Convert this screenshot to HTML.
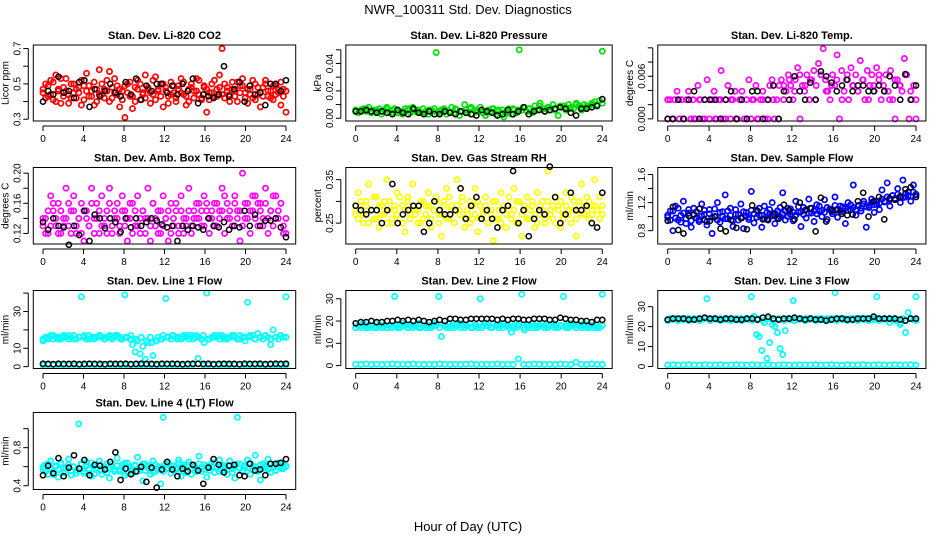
<!DOCTYPE html>
<html><head><meta charset="utf-8"><style>
html,body{margin:0;padding:0;background:#fff}
svg{display:block}
text{font-family:"Liberation Sans",Arial,sans-serif;fill:#000}
.t{font-weight:bold;font-size:11px}
.tk{font-size:10px}
</style></head><body>
<svg id="chart" width="936" height="540" viewBox="0 0 936 540" xmlns="http://www.w3.org/2000/svg">
<text x="468" y="14" text-anchor="middle" font-size="13">NWR_100311  Std. Dev. Diagnostics</text>
<text x="468" y="531" text-anchor="middle" font-size="13">Hour of Day (UTC)</text>
</svg>
<script>
// ---- data ----
const xTicks=[0,4,8,12,16,20,24];
const co2Red=[0.47,0.50,0.43,0.52,0.41,0.55,0.46,0.39,0.48,0.53,0.44,0.42,0.50,0.47,0.45,0.38,0.49,0.56,0.43,0.46,0.51,0.40,0.58,0.44,0.47,0.52,0.57,0.42,0.45,0.49,0.37,0.46,0.31,0.50,0.43,0.36,0.48,0.52,0.41,0.45,0.55,0.47,0.39,0.44,0.54,0.46,0.50,0.37,0.48,0.43,0.51,0.45,0.40,0.49,0.53,0.44,0.38,0.47,0.50,0.42,0.46,0.52,0.41,0.48,0.34,0.45,0.50,0.43,0.47,0.55,0.70,0.42,0.48,0.44,0.51,0.46,0.40,0.49,0.53,0.45,0.39,0.47,0.42,0.50,0.44,0.37,0.48,0.52,0.43,0.46,0.41,0.49,0.45,0.38,0.47,0.34];
const co2Red2=[0.45,0.42,0.49,0.44,0.51,0.40,0.47,0.53,0.43,0.46,0.39,0.50,0.45,0.42,0.48,0.52,0.41,0.46,0.49,0.43,0.38,0.47,0.44,0.50,0.42,0.46,0.40,0.48,0.53,0.44,0.47,0.41,0.49,0.45,0.51,0.43,0.40,0.47,0.50,0.44,0.42,0.48,0.45,0.52,0.41,0.47,0.43,0.50,0.46,0.39,0.44,0.49,0.42,0.47,0.45,0.51,0.43,0.40,0.48,0.46,0.53,0.44,0.42,0.49,0.47,0.41,0.45,0.52,0.43,0.48,0.44,0.50,0.46,0.40,0.47,0.43,0.51,0.45,0.49,0.42,0.47,0.44,0.52,0.41,0.48,0.45,0.43,0.50,0.46,0.42,0.49,0.44,0.47,0.51,0.43,0.46];
const co2Black=[0.40,0.46,0.44,0.54,0.45,0.46,0.42,0.51,0.52,0.37,0.47,0.43,0.46,0.50,0.45,0.43,0.51,0.44,0.53,0.41,0.49,0.46,0.50,0.50,0.45,0.49,0.44,0.50,0.46,0.53,0.39,0.44,0.43,0.42,0.44,0.60,0.43,0.47,0.51,0.40,0.49,0.44,0.45,0.38,0.50,0.50,0.46,0.52];
const presGreen=[0.005,0.004,0.006,0.007,0.005,0.008,0.004,0.006,0.005,0.007,0.003,0.006,0.008,0.005,0.004,0.007,0.006,0.005,0.003,0.007,0.006,0.004,0.008,0.005,0.006,0.004,0.007,0.005,0.003,0.006,0.005,0.048,0.004,0.006,0.007,0.003,0.005,0.008,0.004,0.006,0.002,0.005,0.010,0.004,0.007,0.003,0.006,0.005,0.008,0.004,0.002,0.006,0.005,0.007,0.003,0.006,0.004,0.001,0.005,0.007,0.003,0.006,0.004,0.050,0.006,0.008,0.005,0.007,0.004,0.009,0.006,0.011,0.007,0.005,0.008,0.006,0.010,0.007,0.002,0.008,0.009,0.006,0.010,0.008,0.007,0.011,0.009,0.006,0.010,0.008,0.009,0.011,0.012,0.010,0.013,0.049];
const presGreen2=[0.006,0.005,0.007,0.004,0.006,0.005,0.007,0.006,0.004,0.005,0.007,0.006,0.005,0.004,0.006,0.007,0.005,0.006,0.004,0.007,0.005,0.006,0.008,0.005,0.006,0.004,0.007,0.005,0.006,0.004,0.007,0.006,0.008,0.007,0.006,0.009,0.007,0.008,0.006,0.009,0.008,0.007,0.010,0.008,0.009,0.010,0.009,0.011];
const presBlack=[0.005,0.005,0.006,0.005,0.004,0.005,0.004,0.003,0.006,0.004,0.003,0.007,0.004,0.003,0.005,0.003,0.003,0.005,0.004,0.003,0.005,0.004,0.003,0.002,0.006,0.005,0.004,0.002,0.003,0.006,0.003,0.005,0.008,0.003,0.005,0.006,0.005,0.006,0.007,0.008,0.007,0.004,0.002,0.007,0.007,0.008,0.009,0.014];
const tempMagenta=[0,0.0027,0,0.0027,0.0039,0,0.0027,0,0.0027,0.0039,0,0.0027,0,0.0047,0.0027,0,0.0027,0.0055,0,0.0027,0.0039,0,0.0027,0.0068,0,0.0027,0.0047,0,0.0027,0.0039,0,0.0027,0.0039,0,0.0027,0.0055,0,0.0027,0.0047,0,0.0027,0.0039,0,0.0027,0.0047,0.0055,0,0.0027,0.0047,0.0055,0.0027,0.0039,0.0062,0.0047,0.0027,0.0055,0.0072,0,0.0047,0.0039,0.0062,0.0027,0.0055,0.0068,0.0047,0.0078,0.0062,0.0099,0.0055,0.0039,0.0027,0.0062,0.0047,0.0090,0,0.0068,0.0039,0.0055,0.0027,0.0072,0.0047,0.0062,0.0039,0.0082,0.0055,0.0027,0.0068,0.0047,0.0062,0.0039,0.0072,0.0055,0.0027,0.0047,0.0062,0.0039,0.0068,0.0027,0,0.0055,0.0047,0.0039,0.0085,0.0062,0,0.0027,0.0047,0];
const tempMagenta2=[0.0027,0,0.0027,0,0.0027,0,0.0027,0,0.0027,0,0.0027,0,0.0027,0,0.0027,0,0.0027,0,0.0027,0,0.0027,0,0.0047,0.0055,0.0039,0.0062,0.0047,0.0055,0.0027,0.0062,0.0039,0.0047,0.0055,0.0027,0.0062,0.0047,0.0039,0.0055,0.0027,0.0047,0.0062,0.0039,0.0027,0.0055,0.0047,0.0062,0.0039,0.0027];
const tempBlack=[0,0,0.0027,0,0.0027,0.0039,0,0.0027,0.0027,0.0027,0,0.0027,0.0039,0,0.0027,0,0.0039,0.0039,0,0.0027,0.0047,0,0.0039,0.0027,0.0060,0.0039,0.0027,0.0051,0.0027,0.0067,0.0060,0.0051,0.0039,0.0047,0.0055,0.0039,0.0047,0.0047,0.0039,0.0039,0.0047,0.0039,0.0060,0.0047,0.0027,0.0063,0.0027,0.0047];
const ambMagenta=[0.13,0.14,0.12,0.17,0.15,0.13,0.16,0.12,0.14,0.18,0.13,0.15,0.17,0.12,0.14,0.16,0.11,0.15,0.13,0.18,0.14,0.16,0.12,0.17,0.13,0.15,0.18,0.12,0.14,0.16,0.13,0.17,0.15,0.11,0.14,0.16,0.13,0.17,0.12,0.15,0.14,0.18,0.11,0.16,0.13,0.15,0.12,0.17,0.14,0.11,0.16,0.13,0.15,0.12,0.17,0.14,0.13,0.18,0.12,0.15,0.14,0.16,0.13,0.17,0.15,0.12,0.14,0.16,0.13,0.15,0.18,0.12,0.16,0.14,0.13,0.17,0.15,0.11,0.20,0.14,0.16,0.12,0.15,0.17,0.13,0.16,0.14,0.18,0.12,0.15,0.13,0.17,0.14,0.16,0.12,0.14];
const ambMagenta2=[0.14,0.12,0.15,0.13,0.16,0.14,0.12,0.15,0.13,0.14,0.16,0.12,0.15,0.13,0.14,0.12,0.15,0.14,0.13,0.16,0.12,0.14,0.15,0.13,0.14,0.12,0.16,0.13,0.15,0.14,0.12,0.15,0.13,0.14,0.16,0.12,0.15,0.13,0.14,0.15,0.12,0.14,0.13,0.16,0.14,0.12,0.15,0.13,0.14,0.15,0.12,0.14,0.16,0.13,0.15,0.12,0.14,0.15,0.13,0.14,0.16,0.14,0.15,0.13,0.16,0.14,0.15,0.13,0.16,0.14,0.15,0.17,0.14,0.15,0.13,0.16,0.14,0.15,0.13,0.16,0.14,0.15,0.17,0.14,0.16,0.15,0.13,0.16,0.14,0.15,0.17,0.14,0.15,0.16,0.13,0.12];
const ambBlack=[0.135,0.125,0.14,0.13,0.128,0.105,0.13,0.118,0.15,0.11,0.145,0.14,0.127,0.14,0.135,0.122,0.14,0.128,0.14,0.13,0.135,0.14,0.137,0.132,0.128,0.13,0.11,0.13,0.125,0.13,0.128,0.125,0.14,0.13,0.128,0.135,0.125,0.13,0.128,0.15,0.13,0.145,0.13,0.137,0.137,0.14,0.128,0.115];
const rhYellow=[0.27,0.32,0.29,0.25,0.30,0.34,0.28,0.26,0.31,0.24,0.29,0.27,0.35,0.30,0.25,0.28,0.32,0.26,0.29,0.23,0.31,0.27,0.34,0.28,0.25,0.30,0.26,0.29,0.32,0.24,0.28,0.31,0.27,0.22,0.30,0.33,0.26,0.29,0.25,0.35,0.28,0.31,0.24,0.27,0.30,0.26,0.33,0.23,0.29,0.27,0.31,0.25,0.28,0.21,0.30,0.26,0.32,0.28,0.24,0.29,0.27,0.33,0.25,0.30,0.22,0.28,0.31,0.26,0.29,0.24,0.32,0.27,0.30,0.25,0.37,0.28,0.26,0.31,0.29,0.24,0.27,0.32,0.28,0.25,0.30,0.22,0.29,0.34,0.27,0.31,0.26,0.29,0.35,0.28,0.31,0.27];
const rhYellow2=[0.28,0.26,0.30,0.27,0.29,0.25,0.28,0.31,0.26,0.29,0.27,0.30,0.25,0.28,0.26,0.29,0.27,0.31,0.25,0.28,0.30,0.26,0.29,0.27,0.28,0.25,0.30,0.27,0.29,0.26,0.28,0.30,0.25,0.27,0.29,0.26,0.31,0.28,0.25,0.29,0.27,0.30,0.26,0.28,0.25,0.29,0.27,0.30,0.26,0.28,0.29,0.25,0.27,0.30,0.26,0.28,0.25,0.29,0.27,0.31,0.26,0.28,0.30,0.25,0.27,0.29,0.26,0.28,0.30,0.27,0.25,0.29,0.28,0.26,0.30,0.27,0.29,0.25,0.28,0.30,0.26,0.29,0.27,0.31,0.28,0.26,0.30,0.27,0.29,0.28,0.30,0.27,0.29,0.28,0.26,0.29];
const rhBlack=[0.29,0.28,0.27,0.28,0.28,0.25,0.28,0.34,0.25,0.27,0.28,0.29,0.29,0.23,0.25,0.30,0.28,0.27,0.27,0.28,0.33,0.26,0.29,0.31,0.26,0.28,0.26,0.24,0.28,0.29,0.37,0.25,0.28,0.22,0.26,0.28,0.27,0.38,0.31,0.25,0.27,0.32,0.28,0.28,0.29,0.25,0.24,0.32];
const flowBlue=[0.99,1.08,0.80,1.15,0.95,1.02,1.22,0.90,1.05,0.85,1.12,0.98,0.93,1.18,1.03,0.88,1.10,0.76,1.00,1.20,0.92,1.07,1.31,0.97,1.12,0.86,1.03,0.95,1.18,0.83,1.06,0.99,1.36,0.91,1.09,1.02,0.85,1.15,0.96,1.04,1.20,0.90,1.08,1.00,1.34,0.95,1.12,1.03,0.94,1.22,1.06,0.86,1.13,0.98,1.25,1.05,0.93,1.17,1.08,1.00,1.24,0.96,1.11,1.04,1.28,0.99,1.15,1.07,0.90,1.20,1.10,1.45,1.02,1.16,1.08,1.22,0.85,1.13,1.25,1.06,1.18,1.10,1.38,1.22,1.48,1.15,1.30,1.25,1.40,1.20,1.52,1.28,1.35,1.22,1.45,1.32];
const flowBlue2=[1.02,0.95,1.08,0.98,1.12,0.92,1.05,0.97,1.10,0.94,1.03,1.07,0.96,1.01,1.09,0.93,1.04,0.99,1.11,0.95,1.06,1.00,0.97,1.08,1.02,0.94,1.10,1.03,0.98,1.07,1.01,0.96,1.09,1.04,0.99,1.12,1.02,0.97,1.06,1.10,1.01,1.05,0.98,1.13,1.04,1.08,1.00,1.11,1.06,1.02,1.14,1.07,1.03,1.10,1.05,1.12,1.08,1.04,1.15,1.09,1.06,1.13,1.10,1.07,1.16,1.11,1.08,1.14,1.12,1.09,1.17,1.13,1.10,1.15,1.12,1.18,1.14,1.16,1.20,1.17,1.22,1.19,1.25,1.21,1.28,1.24,1.30,1.26,1.32,1.28,1.27,1.33,1.30,1.29,1.35,1.31];
const flowBlack=[0.94,1.14,0.81,0.76,1.01,1.03,1.11,0.95,0.94,1.00,0.83,0.79,0.95,0.84,0.98,0.82,1.16,1.08,0.96,0.95,1.03,0.97,1.17,1.09,0.96,1.20,1.09,1.12,0.79,1.27,0.93,1.09,1.09,1.04,1.02,1.03,1.22,1.34,1.00,1.22,1.28,0.96,1.26,1.24,1.29,1.39,1.42,1.28];
const line1High=[14,16,15,17,15,16,16,15,17,16,15,16,17,15,16,38,16,15,17,16,15,16,17,16,15,16,17,15,16,17,16,15,39,16,15,12,8,14,7,11,4,13,16,6,14,16,15,17,37,16,15,17,16,16,15,17,16,15,17,16,17,16,15,13,40,15,16,17,16,15,17,16,15,16,17,16,15,17,16,14,35,16,17,15,18,16,15,17,16,12,20,16,15,17,16,38];
const line1High2=[15,16,17,15,16,17,15,16,17,15,16,17,15,16,17,15,16,17,15,16,14,13,14,15,16,17,15,16,17,15,16,17,15,16,17,15,16,17,15,16,17,15,16,17,15,16,17,16];
const line1Low=[0.8,0.9,1.0,0.8,0.9,0.8,1.0,0.9,0.8,1.0,0.9,0.8,0.9,1.0,0.8,0.9,0.8,1.0,0.9,0.8,0.9,1.0,0.8,0.9,1.0,0.8,0.9,0.8,1.0,0.9,4.5,0.8,0.9,1.0,0.8,0.9,0.8,1.0,0.9,0.8,0.9,1.0,0.8,0.9,1.0,0.8,0.9,0.8];
const line1Black=[1.6,1.5,1.4,1.6,1.5,1.5,1.6,1.4,1.5,1.6,1.5,1.5,1.4,1.6,1.5,1.5,1.6,1.4,1.5,1.6,1.5,1.5,1.4,1.6,1.5,1.6,1.5,1.4,1.5,1.6,1.5,1.5,1.6,1.4,1.5,1.6,1.5,1.5,1.4,1.6,1.5,1.5,1.6,1.4,1.5,1.6,1.5,1.6];
const line2High=[17,18,17,19,18,17,18,17,19,18,17,18,17,18,17,31,18,17,19,18,17,18,17,18,19,17,18,17,18,17,19,18,31,13,18,17,19,18,17,18,19,18,17,18,19,17,18,17,30,18,19,18,17,19,18,17,18,19,18,17,15,18,17,19,32,16,18,17,19,18,17,18,19,18,17,18,19,18,17,18,31,18,17,19,18,17,18,17,19,18,17,18,17,18,17,32];
const line2High2=[17,18,17,18,17,18,17,18,17,18,17,18,17,18,17,18,17,18,17,18,17,18,17,18,17,18,17,18,17,18,17,18,17,18,17,18,17,18,17,18,17,18,17,18,17,18,17,18];
const line2Low=[0.6,0.5,0.7,0.5,0.6,0.5,0.6,0.7,0.5,0.6,0.5,0.7,0.6,0.5,0.6,0.5,0.7,0.6,0.5,0.6,0.5,0.6,0.7,0.5,0.6,0.5,0.6,0.7,0.5,0.6,0.5,3.0,0.6,0.5,0.7,0.6,0.5,0.6,0.5,0.7,0.6,0.5,1.5,0.6,0.5,0.7,0.6,0.5];
const line2Black=[19,19.5,19.5,20,19.5,19.5,20,20,20.5,20,20.5,20,20.5,20,19.5,20,20.5,20,21,21,20.5,20.5,21,21,21,21,21,20.5,21,20.5,21,21,20.5,20.5,21,21,21,20.5,20.5,21.5,21,20.5,20.5,20,20,19.5,20.5,20.5];
const line3High=[23.5,24,23.5,24,23.5,24,23.5,24,24,23.5,24,23.5,24,23.5,24,34,24,23.5,24,23.5,24,23.5,24,23.5,24,23.5,24,23.5,24,23.5,24,23.5,35,25,16,15,8,22,4,12,21,20,17,9,6,18,24,23.5,33,24,23.5,24,23.5,24,23.5,24,23.5,24,23.5,24,23.5,24,23.5,24,37,23.5,24,23.5,24,23.5,24,23.5,24,23.5,24,23.5,24,23.5,24,23.5,35,24,23.5,24,23.5,24,23.5,24,23.5,22,24,17,27,24,23.5,35];
const line3High2=[23,24,23,24,23,24,23,24,23,24,23,24,23,24,23,24,23,24,23,24,23,24,23,24,23,24,23,24,23,24,23,24,23,24,23,24,23,24,23,24,23,24,22,23,21,23,24,23];
const line3Low=[0.8,0.9,0.7,0.8,0.9,0.8,0.7,0.9,0.8,0.8,0.9,0.7,0.8,0.9,0.8,0.7,0.9,0.8,0.8,0.9,0.7,0.8,0.9,0.8,0.7,0.9,0.8,0.8,0.9,0.7,0.8,0.9,0.8,0.7,0.9,0.8,0.8,0.9,0.7,0.8,0.9,0.8,0.7,0.9,0.8,0.8,0.9,0.7];
const line3Black=[23.5,24,24,24,23.5,23.5,24,24.5,24,24,23.5,24,24,23.5,23.5,24,24,23.5,24.5,25,24,23.5,24,24,24.5,24,23.5,24,23.5,23.5,23,23.5,24,24,23.5,23.5,24,24,24,25,24,24,24,24,23.5,23,24,24];
const line4Cyan=[0.57,0.62,0.52,0.66,0.55,0.60,0.49,0.63,0.58,0.54,0.68,0.51,0.60,0.56,1.05,0.62,0.53,0.65,0.58,0.50,0.61,0.57,0.66,0.52,0.59,0.63,0.48,0.60,0.55,0.69,0.57,0.62,0.51,0.64,0.58,0.53,0.61,0.70,0.56,0.45,0.63,0.59,0.52,0.66,0.55,0.60,0.42,1.12,0.58,0.64,0.53,0.61,0.57,0.67,0.50,0.62,0.56,0.65,0.52,0.60,0.58,0.71,0.55,0.62,0.49,0.59,0.64,0.54,0.60,0.67,0.56,0.61,0.52,0.66,0.58,0.48,1.12,0.63,0.55,0.60,0.67,0.52,0.61,0.72,0.57,0.46,0.63,0.59,0.68,0.54,0.61,0.56,0.64,0.58,0.62,0.60];
const line4Cyan2=[0.60,0.55,0.63,0.58,0.52,0.61,0.57,0.64,0.54,0.59,0.62,0.56,0.60,0.53,0.58,0.63,0.55,0.61,0.57,0.64,0.52,0.59,0.62,0.56,0.60,0.54,0.58,0.63,0.57,0.61,0.55,0.59,0.64,0.53,0.60,0.57,0.62,0.55,0.59,0.63,0.56,0.61,0.58,0.54,0.62,0.57,0.60,0.55,0.63,0.58,0.61,0.56,0.59,0.64,0.57,0.60,0.54,0.62,0.58,0.61,0.55,0.63,0.59,0.57,0.61,0.56,0.60,0.64,0.58,0.55,0.62,0.59,0.57,0.61,0.54,0.60,0.63,0.58,0.56,0.61,0.59,0.64,0.57,0.60,0.55,0.62,0.58,0.61,0.57,0.63,0.59,0.56,0.62,0.60,0.58,0.61];
const line4Black=[0.51,0.61,0.53,0.69,0.50,0.59,0.72,0.58,0.67,0.51,0.62,0.61,0.57,0.65,0.75,0.46,0.58,0.52,0.55,0.60,0.44,0.59,0.38,0.57,0.65,0.57,0.50,0.58,0.55,0.62,0.56,0.42,0.59,0.68,0.62,0.54,0.61,0.62,0.51,0.50,0.63,0.56,0.57,0.51,0.63,0.63,0.64,0.68];

// ---- layout (not data) ----
const cols=[{x0:43,x1:286},{x0:355.7,x1:602.3},{x0:667.7,x1:916}];
const rows=[{top:45,bot:121},{top:167.5,bot:244},{top:290.5,bot:368.5},{top:412.5,bot:489.5}];
const panels=[
 {name:'co2',title:'Stan. Dev. Li-820 CO2',yl:'Licor ppm',c:0,r:0,ymin:0.29,ymax:0.72,ticks:[0.3,0.4,0.5,0.6,0.7],labels:['0.3','','0.5','','0.7'],series:[[co2Red,'#ff0000'],[co2Red2,'#ff0000'],[co2Black,'#000']]},
 {name:'pressure',title:'Stan. Dev. Li-820 Pressure',yl:'kPa',c:1,r:0,ymin:-0.002,ymax:0.0535,ticks:[0,0.01,0.02,0.03,0.04,0.05],labels:['0.00','','0.02','','0.04',''],series:[[presGreen,'#00e000'],[presGreen2,'#00e000'],[presBlack,'#000']]},
 {name:'temp',title:'Stan. Dev. Li-820 Temp.',yl:'degrees C',c:2,r:0,ymin:-0.0003,ymax:0.0104,ticks:[0,0.002,0.004,0.006,0.008,0.010],labels:['0.000','','','0.006','',''],series:[[tempMagenta,'#ff00ff'],[tempMagenta2,'#ff00ff'],[tempBlack,'#000']]},
 {name:'amb-box-temp',title:'Stan. Dev. Amb. Box Temp.',yl:'degrees C',c:0,r:1,ymin:0.106,ymax:0.2075,ticks:[0.12,0.14,0.16,0.18,0.20],labels:['0.12','','0.16','','0.20'],series:[[ambMagenta,'#ff00ff'],[ambMagenta2,'#ff00ff'],[ambBlack,'#000']]},
 {name:'gas-rh',title:'Stan. Dev. Gas Stream RH',yl:'percent',c:1,r:1,ymin:0.202,ymax:0.378,ticks:[0.25,0.30,0.35],labels:['0.25','','0.35'],series:[[rhYellow,'#ffff00'],[rhYellow2,'#ffff00'],[rhBlack,'#000']]},
 {name:'sample-flow',title:'Stan. Dev. Sample Flow',yl:'ml/min',c:2,r:1,ymin:0.61,ymax:1.70,ticks:[0.8,1.0,1.2,1.4,1.6],labels:['0.8','','1.2','','1.6'],series:[[flowBlue,'#0000ff'],[flowBlue2,'#0000ff'],[flowBlack,'#000']]},
 {name:'line1-flow',title:'Stan. Dev. Line 1 Flow',yl:'ml/min',c:0,r:2,ymin:-1,ymax:41.4,ticks:[0,10,20,30,40],labels:['0','10','','30',''],series:[[line1High,'#00ffff'],[line1High2,'#00ffff'],[line1Low,'#00ffff'],[line1Black,'#000']]},
 {name:'line2-flow',title:'Stan. Dev. Line 2 Flow',yl:'ml/min',c:1,r:2,ymin:-1.3,ymax:33.7,ticks:[0,10,20,30],labels:['0','10','20','30'],series:[[line2High,'#00ffff'],[line2High2,'#00ffff'],[line2Low,'#00ffff'],[line2Black,'#000']]},
 {name:'line3-flow',title:'Stan. Dev. Line 3 Flow',yl:'ml/min',c:2,r:2,ymin:-1,ymax:38.1,ticks:[0,10,20,30],labels:['0','10','20','30'],series:[[line3High,'#00ffff'],[line3High2,'#00ffff'],[line3Low,'#00ffff'],[line3Black,'#000']]},
 {name:'line4-flow',title:'Stan. Dev. Line 4 (LT) Flow',yl:'ml/min',c:0,r:3,ymin:0.36,ymax:1.17,ticks:[0.4,0.6,0.8,1.0],labels:['0.4','','0.8',''],series:[[line4Cyan,'#00ffff'],[line4Cyan2,'#00ffff'],[line4Black,'#000']]}
];
const NS='http://www.w3.org/2000/svg';
const svg=document.getElementById('chart');
function mk(tag,attrs,parent){const e=document.createElementNS(NS,tag);for(const k in attrs)e.setAttribute(k,attrs[k]);(parent||svg).appendChild(e);return e;}
panels.forEach(p=>{
 const col=cols[p.c],row=rows[p.r];
 const ux=(col.x1-col.x0)/24;
 const left=col.x0-0.96*ux,right=col.x1+0.96*ux;
 const xs=h=>col.x0+h*ux;
 const ys=v=>row.bot-(v-p.ymin)/(p.ymax-p.ymin)*(row.bot-row.top);
 const g=mk('g',{});
 
 
 const t=mk('text',{x:(left+right)/2,y:row.top-6,'text-anchor':'middle','class':'t'},g);
 t.textContent=p.title;
 
 
 const pts=mk('g',{fill:'none'},g);
 
 
 p.series.forEach(([arr,color])=>{
  const n=arr.length;
  const sw=color==='#000'?1.5:1.7;
  arr.forEach((v,i)=>{
   const h=i*24/(n-1);
   const c=mk('circle',{cx:xs(h).toFixed(1),cy:ys(v).toFixed(1),r:2.6,stroke:color,'stroke-width':sw},pts);
   
   
  });
 });
 const box=mk('rect',{x:left,y:row.top,width:right-left,height:row.bot-row.top,fill:'none',stroke:'#000','stroke-width':1},g);
 
 
 const xa=mk('g',{},g);
 
 
 mk('line',{x1:xs(0),x2:xs(24),y1:row.bot+5,y2:row.bot+5,stroke:'#000'},xa);
 xTicks.forEach(h=>{
  mk('line',{x1:xs(h),x2:xs(h),y1:row.bot+5,y2:row.bot+10,stroke:'#000'},xa);
  const l=mk('text',{x:xs(h),y:row.bot+21,'text-anchor':'middle','class':'tk'},xa);
  l.textContent=h;
 });
 const ya=mk('g',{},g);
 
 
 const ax=left-5;
 mk('line',{x1:ax,x2:ax,y1:ys(p.ticks[0]),y2:ys(p.ticks[p.ticks.length-1]),stroke:'#000'},ya);
 p.ticks.forEach((v,i)=>{
  mk('line',{x1:ax-5,x2:ax,y1:ys(v),y2:ys(v),stroke:'#000'},ya);
  if(p.labels[i]){
   const l=mk('text',{x:0,y:0,'text-anchor':'middle','class':'tk',transform:`translate(${ax-8},${ys(v)}) rotate(-90)`},ya);
   l.textContent=p.labels[i];
  }
 });
 const yt=mk('text',{x:0,y:0,'text-anchor':'middle','font-size':10,transform:`translate(${left-25},${(row.top+row.bot)/2}) rotate(-90)`},g);
 yt.textContent=p.yl;
 
 
});
</script>
</body></html>
